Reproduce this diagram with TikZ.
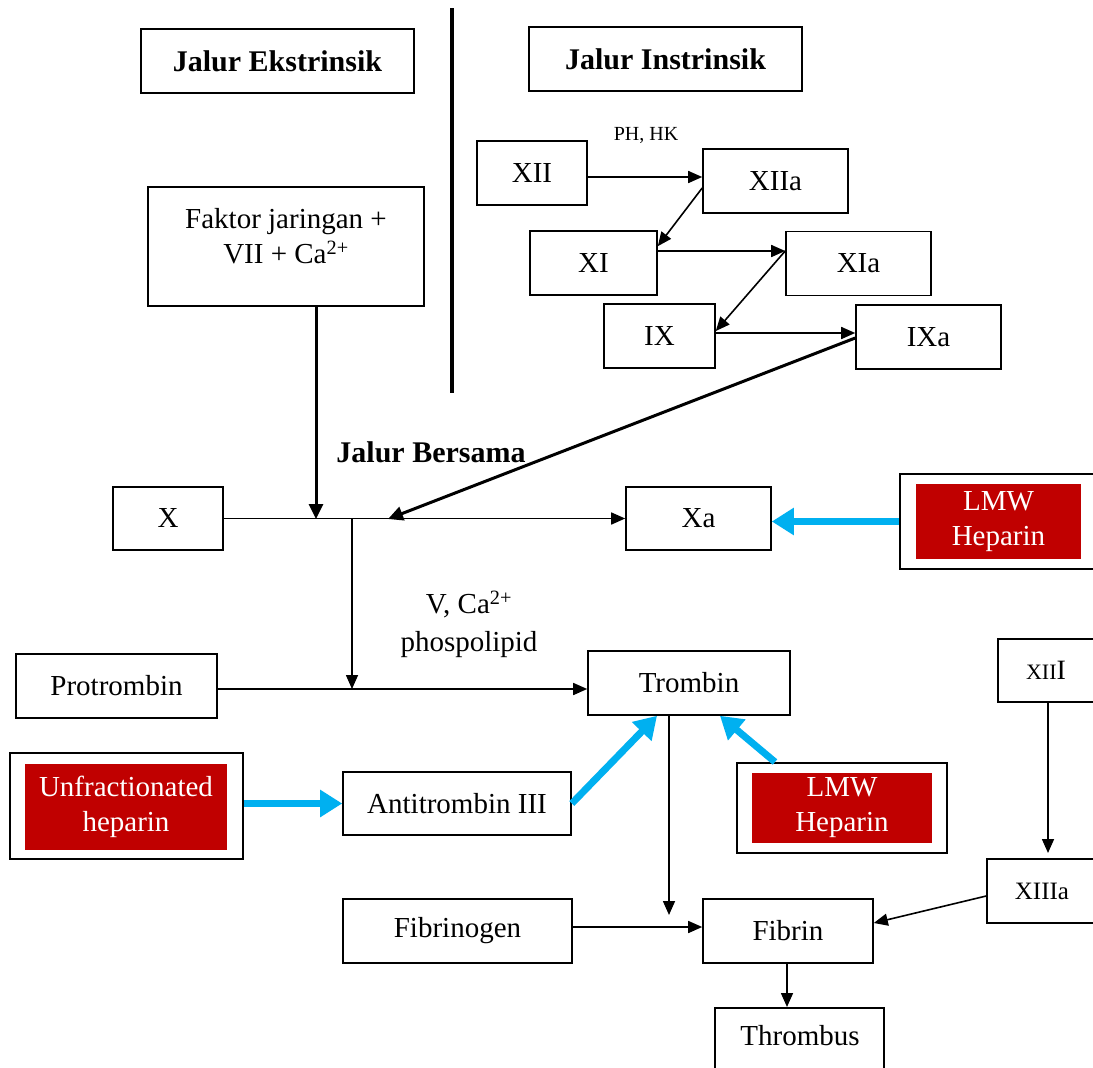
\documentclass[tikz,border=0pt]{standalone}
\usepackage{fontspec}
\setmainfont{Liberation Serif}
\usetikzlibrary{arrows.meta}
\definecolor{hepred}{RGB}{192,0,0}
\definecolor{hepblue}{RGB}{0,176,240}
\begin{document}
\begin{tikzpicture}[x=1pt,y=-1pt,
  box/.style={draw=black, line width=1.6pt, fill=white, inner sep=0pt,
    font=\fontsize{29}{34}\selectfont, align=center},
  titlebox/.style={box, font=\fontsize{30}{34}\selectfont\bfseries},
  outerbox/.style={draw=black, line width=2pt, fill=white, inner sep=0pt},
  redbox/.style={fill=hepred, text=white, inner sep=0pt,
    font=\fontsize{29}{35}\selectfont, align=center},
  txt/.style={inner sep=0pt, align=center, font=\fontsize{29}{35}\selectfont},
  arr/.style={line width=1.6pt, -{Triangle[length=14pt,width=12pt]}},
  thkarr/.style={line width=3pt, -{Triangle[length=15pt,width=14pt]}},
  blarr/.style={line width=7pt, draw=hepblue, -{Triangle[length=22pt,width=26pt]}}
]
\fill[white] (0,0) rectangle (1093,1068);
\useasboundingbox (0,0) rectangle (1093,1068);

% divider
\draw[line width=4pt] (452,8) -- (452,393);

% titles
\node[titlebox, minimum width=273, minimum height=64] (ekst) at (277.5,61) {Jalur Ekstrinsik};
\node[titlebox, minimum width=273, minimum height=64] (inst) at (665.5,59) {Jalur Instrinsik};
\node[txt, font=\fontsize{30}{34}\selectfont\bfseries] (bersama) at (431,452) {Jalur Bersama};

% extrinsic
\node[box, minimum width=276, minimum height=119] (faktor) at (286,246.5) {};
\node[txt] (faktortxt) at (286,236) {Faktor jaringan +\\VII + Ca\textsuperscript{2+}};

% intrinsic
\node[box, minimum width=110, minimum height=64] (xii) at (532,173) {XII};
\node[box, minimum width=145, minimum height=64] (xiia) at (775.5,181) {XIIa};
\node[box, minimum width=127, minimum height=64] (xi) at (593.5,263) {XI};
\node[box, minimum width=145, minimum height=64] (xia) at (858.5,263.5) {XIa};
\node[box, minimum width=111, minimum height=64] (ix) at (659.5,336) {IX};
\node[box, minimum width=145, minimum height=64] (ixa) at (928.5,337) {IXa};
\node[txt, font=\fontsize{20}{24}\selectfont] (phhk) at (646,135) {PH, HK};

% common pathway
\node[box, minimum width=110, minimum height=63] (x) at (168,518.5) {X};
\node[box, minimum width=145, minimum height=63] (xa) at (698.5,518.5) {Xa};
\node[txt] (vca) at (469,624) {V, Ca\textsuperscript{2+}\\[3pt]phospolipid};
\node[box, minimum width=201, minimum height=64] (protrombin) at (116.5,686) {Protrombin};
\node[box, minimum width=202, minimum height=64] (trombin) at (689,683) {Trombin};
\node[box, minimum width=228, minimum height=63] (anti) at (457,803.5) {Antitrombin III};
\node[box, minimum width=229, minimum height=64] (fibrinogen) at (457.5,931) {Fibrinogen};
\node[box, minimum width=170, minimum height=64] (fibrin) at (788,931) {Fibrin};
\node[box, minimum width=169, minimum height=80, anchor=north] (thrombus) at (799.5,1007) {};
\node[txt] (thrombustxt) at (800,1036) {Thrombus};
\node[box, minimum width=96, minimum height=63] (xiii) at (1046,670.5)
  {\fontsize{28}{30}\selectfont{\fontsize{22}{24}\selectfont XII}I};
\node[box, minimum width=110, minimum height=64, font=\fontsize{25}{30}\selectfont] (xiiia) at (1042,891) {XIIIa};

% heparins
\node[outerbox, minimum width=196, minimum height=95] (lmwa) at (998,521.5) {};
\node[redbox, minimum width=165, minimum height=75] (lmwatxt) at (998.5,521.5) {LMW\\Heparin};
\node[outerbox, minimum width=210, minimum height=90] (lmwb) at (842,808) {};
\node[redbox, minimum width=180, minimum height=70] (lmwbtxt) at (842,808) {LMW\\Heparin};
\node[outerbox, minimum width=233, minimum height=106] (unf) at (126.5,806) {};
\node[redbox, minimum width=202, minimum height=86] (unftxt) at (126,807) {Unfractionated\\heparin};

% junction coordinates
\coordinate (j1) at (316,519);
\coordinate (j2) at (388,519);
\coordinate (j3) at (352,519);
\coordinate (j4) at (352,689);
\coordinate (t1) at (669,915);

% intrinsic arrows
\draw[arr] ([yshift=-4pt]xii.east) -- ([yshift=-4pt]xii.east -| xiia.west);
\draw[arr] ([yshift=-7pt]xiia.west) -- ([yshift=-16pt]xi.north east);
\draw[arr] ([yshift=12pt]xi.east) -- ([yshift=12pt]xi.east -| xia.west);
\draw[arr] ([yshift=12.5pt]xia.west) -- ([yshift=5pt]ix.east);
\draw[arr] ([yshift=3pt]ix.east) -- ([yshift=3pt]ix.east -| ixa.west);

% to common pathway
\draw[thkarr] (j1 |- faktor.south) -- (j1);
\draw[thkarr] ([yshift=-1pt]ixa.west) -- (j2);
\draw[arr] (x.east) -- (xa.west);
\draw[arr] (j3) -- (j4);
\draw[arr] ([yshift=-3pt]protrombin.east) -- ([yshift=-3pt]protrombin.east -| trombin.west);
\draw[arr] (t1 |- trombin.south) -- (t1);
\draw[arr] (fibrinogen.east |- 0,927) -- (fibrin.west |- 0,927);
\draw[arr] ([yshift=-5pt]xiiia.west) -- ([yshift=8pt]fibrin.east);
\draw[arr] (fibrin.south -| 787,0) -- (thrombus.north -| 787,0);
\draw[arr] (xiii.south -| 1048,0) -- (1048,853);

% heparin arrows
\draw[blarr] (lmwa.west) -- (lmwa.west -| xa.east);
\draw[blarr] (unf.east |- anti.west) -- (anti.west);
\draw[blarr] (anti.east) -- ([xshift=-32pt]trombin.south);
\draw[blarr] ([xshift=-67pt]lmwb.north) -- ([xshift=31pt]trombin.south);
\end{tikzpicture}
\end{document}
